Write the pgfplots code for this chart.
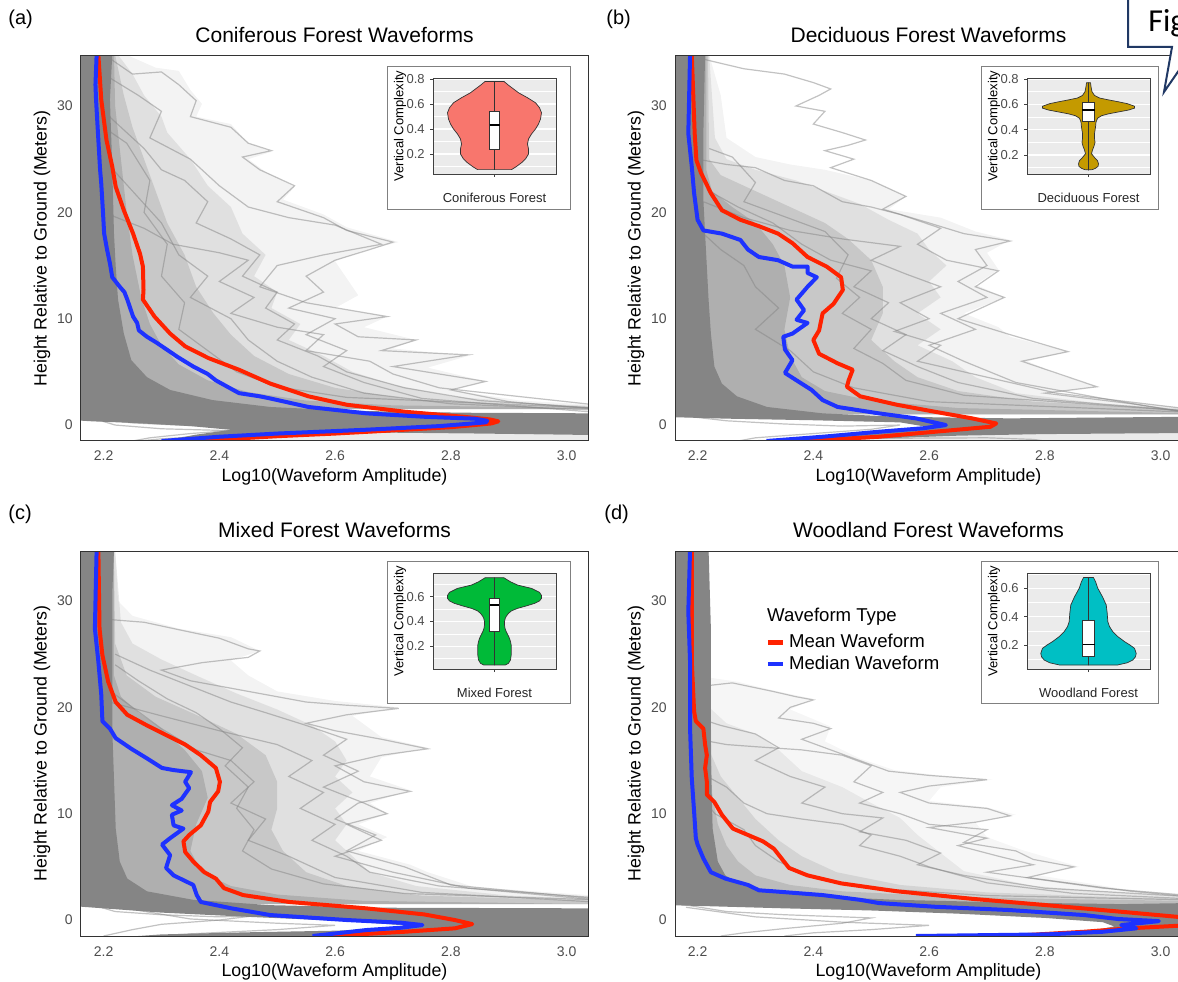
\documentclass[border=0pt]{standalone}
\usepackage{fontspec}
\setmainfont{Liberation Sans}
\newfontfamily\calib{Carlito}
\usepackage{pgfplots}
\usepackage{pgfplotstable}
\pgfplotsset{compat=1.18}

\definecolor{wred}{HTML}{FF2200}
\definecolor{wblue}{HTML}{1E32FF}
\definecolor{wgray}{HTML}{858585}
\definecolor{fgray}{HTML}{4D4D4D}
\definecolor{vred}{HTML}{F8766D}
\definecolor{vgold}{HTML}{C49A00}
\definecolor{vgreen}{HTML}{00BA38}
\definecolor{vcyan}{HTML}{00BFC4}
\definecolor{panelbg}{HTML}{EBEBEB}
\definecolor{navy}{HTML}{203864}

\pgfplotsset{
  wave/.style={
    scale only axis, width=253.5pt, height=192.5pt,
    xmin=2.161, xmax=3.037, ymin=-1.5, ymax=34.7,
    xtick={2.2,2.4,2.6,2.8,3.0}, xticklabels={2.2,2.4,2.6,2.8,3.0},
    ytick={0,10,20,30}, yticklabels={0,10,20,30},
    major tick length=0pt,
    axis line style={draw=black!80, line width=0.5pt},
    tick label style={font=\fontsize{7}{8}\selectfont, text=fgray},
    xticklabel style={anchor=base, yshift=-10pt},
    yticklabel style={anchor=east, inner sep=0pt, xshift=-4pt},
    every axis x label/.style={at={(axis description cs:0.5,-0.105)}, anchor=base,
      font=\fontsize{8.9}{10}\selectfont},
    every axis y label/.style={at={(axis description cs:-0.077,0.5)}, rotate=90,
      anchor=center, font=\fontsize{8.9}{10}\selectfont},
    every axis title/.style={at={(axis description cs:0.5,1.035)}, anchor=base,
      font=\fontsize{10.5}{12}\selectfont},
    xlabel={Log10(Waveform Amplitude)},
    ylabel={Height Relative to Ground (Meters)},
    axis on top,
  },
  wOuter/.style={fill=wgray, fill opacity=0.10, draw=none, forget plot},
  wMid/.style={fill=wgray, fill opacity=0.17, draw=none, forget plot},
  wInner/.style={fill=wgray, fill opacity=0.26, draw=none, forget plot},
  wNear/.style={fill=wgray, fill opacity=0.38, draw=none, forget plot},
  wCore/.style={fill=wgray, draw=none, forget plot},
  wThin/.style={draw=wgray, draw opacity=0.5, line width=0.6pt, forget plot},
  meanl/.style={draw=wred, line width=2pt, line join=round},
  medl/.style={draw=wblue, line width=2pt, line join=round},
  vcInset/.style={
    scale only axis, width=61.5pt, height=48pt,
    xmin=-61.5, xmax=61.5,
    axis background/.style={fill=panelbg},
    axis line style={draw=black!75, line width=0.4pt},
    xtick={0}, xticklabels={},
    minor ytick={0.1,0.3,0.5,0.7},
    ymajorgrids, yminorgrids,
    major grid style={draw=white, line width=0.55pt},
    minor grid style={draw=white, line width=0.3pt},
    major tick length=1.5pt, minor tick length=0pt, tick align=outside,
    tick style={draw=black!75, line width=0.3pt},
    xtick pos=left, ytick pos=left,
    tick label style={font=\fontsize{6.5}{7}\selectfont, text=fgray},
    yticklabel style={anchor=east, inner sep=0pt, xshift=-2.5pt},
    every axis y label/.style={at={(axis description cs:-0.268,0.5)}, rotate=90,
      anchor=center, font=\fontsize{6.5}{7}\selectfont},
    every axis x label/.style={at={(axis description cs:0.5,-0.25)}, anchor=center,
      font=\fontsize{6.5}{7}\selectfont, text=black!85},
    ylabel={Vertical Complexity},
  },
  vside/.style={draw=black!80, line width=0.35pt, line join=round},
  vbox/.style={fill=white, draw=black!80, line width=0.35pt},
  vmed/.style={draw=black, line width=0.8pt},
  vwhisk/.style={draw=black!80, line width=0.35pt},
}

% violin half-widths (px) against vertical complexity
\pgfplotstableread{
w v
0 0.075
17 0.075
22 0.10
27 0.13
31 0.16
34 0.20
34 0.24
33 0.28
34 0.32
37 0.36
41 0.40
44 0.44
46 0.48
47 0.53
45 0.57
41 0.61
33 0.65
24 0.69
19 0.72
14 0.75
9.5 0.78
0 0.78
}\violinA
\pgfplotstableread{
w v
0 0.082
4 0.085
7 0.095
9.5 0.11
10 0.13
9 0.155
6 0.18
4 0.20
3 0.21
4 0.24
5.5 0.27
6.5 0.30
6 0.33
6 0.37
7 0.42
7.5 0.46
9 0.49
13 0.51
20 0.525
30 0.54
40 0.555
46 0.57
46 0.585
39 0.605
30 0.62
20 0.635
11 0.65
6 0.67
3.5 0.70
2.5 0.74
2 0.771
0 0.771
}\violinB
\pgfplotstableread{
w v
0 0.05
11 0.05
14 0.063
16 0.09
16.7 0.13
16.7 0.16
16.7 0.21
16 0.237
15 0.264
13.5 0.29
11.7 0.318
10.5 0.345
10 0.372
10 0.40
10.7 0.425
12 0.445
14 0.466
17 0.486
23 0.506
32 0.526
40 0.546
45 0.566
47 0.587
47 0.61
45 0.635
37 0.667
23 0.694
16 0.72
9.3 0.753
0 0.753
}\violinC
\pgfplotstableread{
w v
0 0.062
29 0.062
39 0.078
44.3 0.097
47 0.12
47.7 0.144
46 0.179
41.5 0.202
36 0.226
29.5 0.26
24.3 0.296
21 0.331
19.3 0.366
18.7 0.425
17.7 0.483
14 0.54
9.3 0.60
7 0.647
5 0.675
0 0.675
}\violinD

\begin{document}
\begin{tikzpicture}
\useasboundingbox (0pt,0pt) rectangle (589pt,490.5pt);

% ---------------- (a) Coniferous ----------------
\begin{axis}[wave, at={(40.5pt,270pt)}, anchor=south west, title={Coniferous Forest Waveforms}]
\addplot[wOuter] coordinates {(2.15,34.8) (2.24,34.8) (2.29,33.6) (2.33,33.3) (2.35,31.5) (2.37,30.2) (2.36,29) (2.42,28.3) (2.45,26.5) (2.49,25.7) (2.45,25) (2.48,23.8) (2.53,22.4) (2.51,21.2) (2.58,19.8) (2.62,18.6) (2.71,17.2) (2.65,16.4) (2.6,15.4) (2.62,13.8) (2.64,12.2) (2.6,11) (2.69,10.2) (2.65,9.2) (2.74,8.0) (2.7,7.2) (2.83,6.5) (2.76,5.4) (2.86,4.1) (2.8,3.3) (2.92,2.3) (3.05,1.9) (3.05,1.5) (2.15,1.5)} -- cycle;
\addplot[wMid] coordinates {(2.15,34.8) (2.225,34.8) (2.25,33) (2.27,31) (2.3,29) (2.31,27.5) (2.35,25) (2.38,22.5) (2.42,20.5) (2.44,18) (2.48,16) (2.46,14) (2.5,12.5) (2.49,11) (2.54,9.5) (2.52,8) (2.58,6.5) (2.63,5) (2.7,3.8) (2.8,2.7) (2.95,2.0) (3.05,1.8) (3.05,1.5) (2.15,1.5)} -- cycle;
\addplot[wInner] coordinates {(2.15,34.8) (2.22,34.8) (2.235,31) (2.25,28) (2.27,25) (2.29,22) (2.31,19) (2.34,16) (2.36,13) (2.39,10.5) (2.42,8.5) (2.46,6.5) (2.52,4.8) (2.6,3.5) (2.72,2.5) (2.9,1.9) (3.05,1.7) (3.05,1.5) (2.15,1.5)} -- cycle;
\addplot[wNear] coordinates {(2.15,34.8) (2.218,34.8) (2.22,30) (2.23,25) (2.24,20) (2.25,16) (2.265,12) (2.28,9.5) (2.3,7.5) (2.33,5.7) (2.38,4.2) (2.45,3.1) (2.55,2.3) (2.7,1.85) (3.05,1.6) (3.05,1.5) (2.15,1.5)} -- cycle;
\addplot[wThin] coordinates {(2.21,34.5) (2.25,33) (2.3,33.2) (2.33,32) (2.36,30.5) (2.35,29) (2.42,28) (2.45,26.5) (2.49,25.8) (2.44,25.2) (2.47,24) (2.53,22.5) (2.5,21) (2.58,19.5) (2.62,18.3) (2.7,17.2) (2.66,16.5) (2.6,15.5) (2.55,14) (2.58,12.5) (2.52,11) (2.6,10) (2.55,8.5) (2.62,7) (2.58,5.5) (2.65,4) (2.75,2.5) (3.05,1.2)};
\addplot[wThin] coordinates {(2.2,33) (2.26,31) (2.3,29.5) (2.28,27) (2.35,25) (2.4,22.5) (2.45,20.5) (2.52,19.5) (2.6,18.8) (2.68,17) (2.58,16) (2.5,15) (2.47,13) (2.55,11.5) (2.69,10.2) (2.6,9.5) (2.64,8.3) (2.74,8) (2.68,7) (2.83,6.6) (2.7,5.5) (2.86,4.1) (2.8,3.3) (2.9,2.2) (3.05,1.5)};
\addplot[wThin] coordinates {(2.19,30) (2.23,28) (2.27,26) (2.3,24) (2.34,23) (2.38,21) (2.36,19) (2.42,17.5) (2.47,16) (2.44,14) (2.5,12.5) (2.48,11) (2.53,9.5) (2.5,8) (2.57,6.5) (2.62,5) (2.72,3.5) (2.85,2.3) (3.05,1.6)};
\addplot[wThin] coordinates {(2.2,25) (2.25,22) (2.3,19) (2.33,16) (2.38,14) (2.35,12) (2.42,10) (2.45,8) (2.5,6) (2.56,4.5) (2.65,3) (2.8,2) (3.05,1.4)};
\addplot[wThin] coordinates {(2.2,20) (2.27,18.5) (2.32,17) (2.4,16.2) (2.45,15.5) (2.4,13.5) (2.46,12) (2.42,10.5) (2.5,9.2) (2.58,8.5) (2.55,7) (2.66,6) (2.7,4.8) (2.78,3.5) (3.05,1.9)};
\addplot[wThin] coordinates {(2.2,28) (2.24,26.5) (2.28,23) (2.27,20) (2.31,17) (2.3,14) (2.34,11.5) (2.33,9) (2.38,7) (2.43,5) (2.5,3.6) (2.62,2.6) (3.05,1.6)};
\addplot[wThin] coordinates {(2.17,0.7) (2.25,0.2) (2.35,-0.05) (2.45,0.05) (2.52,0.2) (2.45,-0.4) (2.35,-0.8) (2.28,-1.2) (2.25,-1.5)};
\addplot[wThin] coordinates {(2.165,0.9) (2.22,0.0) (2.3,-0.35) (2.4,-0.5) (2.5,-0.55) (2.42,-0.9) (2.3,-1.3) (2.26,-1.5)};
\addplot[wMid] coordinates {(2.37,-1.5) (2.45,-1.15) (2.56,-0.85) (2.7,-0.72) (2.85,-0.8) (3.05,-0.94) (3.05,-1.5)} -- cycle;
\addplot[wCore] coordinates {(2.15,34.8) (2.215,34.8) (2.211,30.6) (2.215,24.3) (2.218,18) (2.221,14.9) (2.225,11.8) (2.235,8.6) (2.248,6.1) (2.275,4.5) (2.315,3.3) (2.388,2.35) (2.488,1.7) (2.62,1.35) (2.82,1.16) (3.05,1.1) (3.05,-0.94) (2.85,-0.8) (2.7,-0.72) (2.56,-0.85) (2.45,-1.15) (2.37,-1.5) (2.30,-1.5) (2.36,-0.9) (2.42,-0.45) (2.35,-0.1) (2.25,0.2) (2.18,0.35) (2.15,0.45)} -- cycle;
\addplot[meanl] coordinates {(2.191,34.8) (2.196,30.6) (2.205,26.8) (2.215,24.3) (2.221,22.4) (2.235,20.2) (2.251,18.0) (2.263,16.1) (2.268,14.9) (2.269,12.7) (2.268,11.8) (2.288,10.2) (2.315,8.6) (2.341,7.4) (2.381,6.3) (2.434,5.2) (2.488,3.9) (2.554,2.7) (2.621,1.9) (2.721,1.25) (2.821,0.78) (2.867,0.53) (2.882,0.35) (2.87,0.15) (2.8,-0.2) (2.7,-0.5) (2.6,-0.8) (2.5,-1.05) (2.42,-1.3) (2.37,-1.5)};
\addplot[medl] coordinates {(2.188,34.8) (2.186,32) (2.187,30.6) (2.191,26.8) (2.194,24) (2.196,22.7) (2.199,20) (2.201,18.0) (2.206,16.5) (2.211,15.2) (2.215,13.9) (2.228,13.0) (2.236,12.5) (2.241,11.8) (2.251,10.2) (2.258,9.6) (2.261,8.9) (2.275,8.3) (2.29,7.8) (2.301,7.4) (2.328,6.4) (2.355,5.5) (2.38,4.8) (2.394,4.2) (2.434,3.0) (2.47,2.7) (2.488,2.5) (2.554,1.7) (2.654,1.1) (2.754,0.78) (2.841,0.6) (2.863,0.4) (2.86,0.25) (2.78,-0.1) (2.65,-0.45) (2.5,-0.8) (2.4,-1.1) (2.3,-1.5)};
\end{axis}

% ---------------- (b) Deciduous ----------------
\begin{axis}[wave, at={(337.5pt,270pt)}, anchor=south west, title={Deciduous Forest Waveforms}]
\addplot[wOuter] coordinates {(2.15,34.8) (2.22,34.8) (2.24,31) (2.25,27) (2.3,25.2) (2.36,24.5) (2.42,24) (2.5,23) (2.56,21.5) (2.53,20.3) (2.62,19.5) (2.68,18.2) (2.74,17.4) (2.7,16.2) (2.72,14.6) (2.68,13.2) (2.73,12) (2.66,10.5) (2.72,9.2) (2.74,8.3) (2.84,6.9) (2.77,6) (2.82,4.8) (2.89,3.6) (2.8,3.0) (2.95,2.1) (3.05,1.6) (3.05,1.0) (2.15,1.0)} -- cycle;
\addplot[wMid] coordinates {(2.15,34.8) (2.22,34.8) (2.23,27) (2.25,25) (2.3,24) (2.37,23) (2.42,22) (2.48,20.8) (2.53,19.3) (2.58,18) (2.6,16.5) (2.63,15) (2.6,13.5) (2.62,12) (2.58,10.5) (2.62,9) (2.58,7.5) (2.64,6) (2.68,4.5) (2.75,3) (2.9,2) (3.05,1.5) (3.05,1.0) (2.15,1.0)} -- cycle;
\addplot[wInner] coordinates {(2.15,34.8) (2.218,34.8) (2.22,25) (2.24,23.5) (2.3,22) (2.36,20.5) (2.42,19) (2.46,17.5) (2.5,15.5) (2.52,13) (2.52,10.5) (2.5,8) (2.54,6) (2.58,4.5) (2.65,3.2) (2.78,2.2) (3.05,1.4) (3.05,1.0) (2.15,1.0)} -- cycle;
\addplot[wNear] coordinates {(2.15,34.8) (2.215,34.8) (2.215,24) (2.225,22) (2.26,20.5) (2.3,19) (2.33,17) (2.35,15) (2.36,12) (2.35,9) (2.36,6.5) (2.38,4.5) (2.42,3.2) (2.5,2.3) (2.65,1.6) (3.05,1.1) (3.05,1.0) (2.15,1.0)} -- cycle;
\addplot[wThin] coordinates {(2.21,34.4) (2.28,33.5) (2.35,33) (2.4,32.2) (2.43,31.6) (2.41,31) (2.37,30) (2.42,29.5) (2.4,28.3) (2.45,27.5) (2.49,26.8) (2.46,26.3) (2.42,25.8) (2.47,25) (2.43,24.2) (2.5,23) (2.56,21.5) (2.52,20.3) (2.6,19) (2.66,18) (2.74,17.3) (2.68,16.5) (2.7,15) (2.65,13.5) (2.7,12) (2.62,10.5) (2.68,9) (2.6,7.5) (2.66,6) (2.75,4) (2.9,2.5) (3.05,1.1)};
\addplot[wThin] coordinates {(2.2,25) (2.25,24.5) (2.3,24.2) (2.35,23) (2.4,22.5) (2.45,21) (2.5,20.5) (2.55,19.8) (2.62,18.5) (2.58,17) (2.63,15.5) (2.72,14.5) (2.68,13) (2.73,12) (2.65,10) (2.74,8.5) (2.84,6.9) (2.76,6) (2.89,3.6) (2.8,3.0) (2.95,2) (3.05,1.2)};
\addplot[wThin] coordinates {(2.22,22) (2.27,20.5) (2.33,19) (2.38,17) (2.43,15.5) (2.5,14.5) (2.47,13) (2.53,11.5) (2.5,10) (2.56,8.5) (2.52,7) (2.58,5.5) (2.65,4) (2.78,2.5) (3.05,1.3)};
\addplot[wThin] coordinates {(2.2,18.5) (2.24,16.5) (2.28,15) (2.3,13) (2.34,11) (2.3,9) (2.36,7) (2.4,5) (2.47,3.5) (2.6,2.2) (3.05,1.2)};
\addplot[wThin] coordinates {(2.21,21) (2.28,19.5) (2.36,18.3) (2.45,17.5) (2.55,16.8) (2.5,15.5) (2.56,14.2) (2.62,13) (2.55,11.5) (2.6,10) (2.54,8.8) (2.62,7.5) (2.58,6) (2.7,4.5) (2.82,3) (3.05,1.5)};
\addplot[wThin] coordinates {(2.22,26) (2.26,25.2) (2.3,22.8) (2.28,21) (2.34,19.8) (2.42,18.2) (2.46,16) (2.44,13.8) (2.48,12) (2.45,10.5) (2.5,9) (2.47,7.2) (2.52,5.8) (2.56,4.2) (2.66,2.8) (3.05,1.3)};
\addplot[wThin] coordinates {(2.17,0.9) (2.25,0.4) (2.35,0.1) (2.45,-0.1) (2.55,0.0) (2.5,-0.4) (2.4,-0.8) (2.3,-1.2) (2.27,-1.5)};
\addplot[wThin] coordinates {(2.27,-1.5) (2.5,-1.25) (2.7,-1.2) (2.78,-1.35) (2.8,-1.5)};
\addplot[wMid] coordinates {(2.4,-1.5) (2.45,-1.4) (2.55,-1.2) (2.65,-1.0) (2.8,-0.85) (3.05,-0.75) (3.05,-1.5)} -- cycle;
\addplot[wCore] coordinates {(2.15,34.8) (2.213,34.8) (2.21,27.4) (2.21,21.2) (2.213,18) (2.216,14.9) (2.219,11.8) (2.223,8.6) (2.229,5.5) (2.242,3.9) (2.268,2.7) (2.32,1.7) (2.416,1.1) (2.545,0.78) (2.739,0.63) (3.05,0.78) (3.05,-0.75) (2.8,-0.85) (2.65,-1.0) (2.55,-1.2) (2.45,-1.4) (2.4,-1.5) (2.3,-1.5) (2.42,-1.0) (2.55,-0.6) (2.6,-0.2) (2.55,0.25) (2.4,0.45) (2.25,0.6) (2.15,0.75)} -- cycle;
\addplot[meanl] coordinates {(2.19,34.8) (2.195,27.4) (2.198,24.9) (2.206,23.7) (2.223,21.8) (2.242,20.2) (2.274,19.3) (2.306,18.7) (2.339,18.0) (2.364,17.1) (2.39,15.8) (2.423,14.9) (2.448,13.9) (2.451,12.7) (2.435,11.4) (2.416,10.5) (2.41,8.9) (2.4,8.0) (2.41,6.7) (2.442,5.8) (2.468,5.2) (2.461,4.2) (2.458,3.6) (2.481,2.7) (2.545,1.9) (2.61,1.25) (2.674,0.63) (2.716,0.15) (2.706,-0.16) (2.61,-0.63) (2.513,-1.1) (2.416,-1.4) (2.39,-1.5)};
\addplot[medl] coordinates {(2.187,34.8) (2.184,27.4) (2.19,24.3) (2.194,21.8) (2.2,19.3) (2.21,18.3) (2.242,18.0) (2.274,17.4) (2.287,16.5) (2.306,15.8) (2.339,15.5) (2.364,14.9) (2.39,14.9) (2.39,14.3) (2.406,13.9) (2.39,13.0) (2.371,11.8) (2.384,10.8) (2.371,9.9) (2.39,9.6) (2.364,8.6) (2.348,8.3) (2.351,7.1) (2.364,6.1) (2.351,4.9) (2.371,4.2) (2.397,3.3) (2.416,2.35) (2.442,1.7) (2.513,1.1) (2.577,0.63) (2.629,0.0) (2.59,-0.3) (2.513,-0.63) (2.416,-1.1) (2.319,-1.5)};
\end{axis}

% ---------------- (c) Mixed ----------------
\begin{axis}[wave, at={(40.5pt,22.5pt)}, anchor=south west, title={Mixed Forest Waveforms}]
\addplot[wOuter] coordinates {(2.15,34.8) (2.22,34.8) (2.225,30) (2.25,28.6) (2.33,27.4) (2.42,26.6) (2.47,25.3) (2.42,24.4) (2.45,23) (2.5,21.5) (2.6,20.6) (2.71,20) (2.63,19.2) (2.68,17.2) (2.76,16.2) (2.68,15.3) (2.66,13.5) (2.73,12.2) (2.66,11) (2.69,10) (2.64,9) (2.69,7.8) (2.64,6.5) (2.73,5.2) (2.76,4.5) (2.84,3.1) (3.05,2.3) (3.05,1.5) (2.15,1.5)} -- cycle;
\addplot[wMid] coordinates {(2.15,34.8) (2.22,34.8) (2.23,28) (2.25,26) (2.3,24.5) (2.36,23) (2.43,21.3) (2.5,19.8) (2.56,18.3) (2.6,16.8) (2.62,15) (2.6,13.5) (2.63,12) (2.6,10.5) (2.62,9) (2.6,7.5) (2.63,6) (2.66,4.5) (2.74,3.2) (2.9,2.3) (3.05,2.0) (3.05,1.5) (2.15,1.5)} -- cycle;
\addplot[wInner] coordinates {(2.15,34.8) (2.218,34.8) (2.22,26) (2.24,23) (2.29,21) (2.36,19.3) (2.43,17.5) (2.48,15.5) (2.5,13) (2.5,10.5) (2.49,8.5) (2.51,6.5) (2.55,4.5) (2.62,3.2) (2.75,2.3) (3.05,1.8) (3.05,1.5) (2.15,1.5)} -- cycle;
\addplot[wNear] coordinates {(2.15,34.8) (2.218,34.8) (2.218,23) (2.23,21) (2.26,19.5) (2.3,18) (2.34,16) (2.37,14) (2.38,11.5) (2.36,9) (2.35,6.5) (2.37,4.5) (2.42,3.2) (2.5,2.4) (2.65,1.8) (3.05,1.5) (2.15,1.5)} -- cycle;
\addplot[wThin] coordinates {(2.2,28.3) (2.27,28) (2.33,27.3) (2.4,26.5) (2.45,25.5) (2.47,25.3) (2.45,24.7) (2.37,24.2) (2.3,23.5) (2.35,22.5) (2.42,21.8) (2.5,21) (2.55,20.5) (2.62,20.2) (2.71,19.9) (2.62,19.3) (2.55,18.5) (2.6,17.8) (2.68,17) (2.76,16.1) (2.68,15.5) (2.6,14.5) (2.65,13) (2.73,12.1) (2.64,11) (2.6,9.5) (2.67,8) (2.62,6.5) (2.72,5) (2.8,3.3) (3.05,2.0)};
\addplot[wThin] coordinates {(2.22,25) (2.28,23.5) (2.35,22) (2.42,20.5) (2.48,19.5) (2.55,18.3) (2.62,17) (2.58,15.5) (2.64,14) (2.58,12.5) (2.65,11) (2.69,10) (2.62,9) (2.68,7.5) (2.6,6) (2.7,4.5) (2.83,3) (3.05,1.9)};
\addplot[wThin] coordinates {(2.2,22) (2.25,20) (2.3,18) (2.36,16) (2.42,15) (2.46,13) (2.42,11) (2.48,9.5) (2.45,7.5) (2.52,6) (2.6,4) (2.75,2.6) (3.05,1.7)};
\addplot[wThin] coordinates {(2.21,20.5) (2.3,19.2) (2.4,17.8) (2.5,16.5) (2.56,15) (2.52,13.5) (2.58,12) (2.54,10.5) (2.6,9) (2.56,7.5) (2.62,6) (2.66,4.5) (2.78,3.2) (3.05,2.1)};
\addplot[wThin] coordinates {(2.22,24) (2.26,22.5) (2.31,20.8) (2.36,19.5) (2.4,18) (2.44,16.2) (2.41,14.5) (2.45,12.5) (2.43,10.5) (2.46,8.5) (2.44,6.5) (2.49,4.8) (2.58,3.4) (2.72,2.5) (3.05,1.9)};
\addplot[wThin] coordinates {(2.17,1.6) (2.22,0.8) (2.3,0.5) (2.4,0.3) (2.46,0.4) (2.4,0.0) (2.3,-0.4) (2.25,-0.9) (2.2,-1.5)};
\addplot[wThin] coordinates {(2.2,2.0) (2.25,1.0) (2.35,0.1) (2.5,-0.3) (2.6,-0.5) (2.5,-0.9) (2.35,-1.3) (2.3,-1.5)};
\addplot[wCore] coordinates {(2.15,34.8) (2.218,34.8) (2.215,30.6) (2.215,24.3) (2.215,18) (2.218,13.3) (2.221,8.6) (2.228,5.5) (2.241,3.9) (2.275,2.7) (2.355,1.9) (2.488,1.4) (2.687,1.16) (3.05,1.1) (3.05,-1.5) (2.26,-1.5) (2.3,-1.35) (2.45,-1.15) (2.6,-1.0) (2.7,-0.8) (2.72,-0.5) (2.62,-0.1) (2.45,0.3) (2.3,0.7) (2.2,1.1) (2.15,1.3)} -- cycle;
\addplot[meanl] coordinates {(2.191,34.8) (2.193,27.4) (2.198,24.9) (2.208,22.4) (2.221,20.5) (2.241,19.3) (2.275,18.3) (2.308,17.4) (2.341,16.5) (2.368,15.5) (2.394,14.3) (2.401,13.0) (2.398,12.1) (2.384,11.1) (2.381,10.2) (2.368,8.9) (2.348,8.0) (2.338,7.4) (2.341,6.4) (2.355,5.5) (2.374,4.5) (2.394,3.9) (2.408,3.0) (2.441,2.35) (2.521,1.7) (2.654,1.1) (2.754,0.53) (2.807,0.0) (2.837,-0.38) (2.807,-0.78) (2.72,-1.1) (2.621,-1.4) (2.588,-1.5)};
\addplot[medl] coordinates {(2.188,34.8) (2.185,27.4) (2.191,24.3) (2.196,21.2) (2.198,18.7) (2.211,18.0) (2.221,17.1) (2.248,16.1) (2.275,15.2) (2.301,14.3) (2.321,14.1) (2.351,13.9) (2.341,13.0) (2.348,12.4) (2.335,11.4) (2.318,10.8) (2.335,10.3) (2.318,9.9) (2.321,8.9) (2.338,8.6) (2.315,7.7) (2.301,7.1) (2.315,6.1) (2.308,4.9) (2.321,4.2) (2.355,3.3) (2.361,2.35) (2.368,1.7) (2.421,1.1) (2.488,0.47) (2.621,0.0) (2.714,-0.25) (2.751,-0.47) (2.714,-0.72) (2.654,-0.94) (2.561,-1.5)};
\end{axis}

% ---------------- (d) Woodland ----------------
\begin{axis}[wave, at={(337.5pt,22.5pt)}, anchor=south west, title={Woodland Forest Waveforms},
  legend style={at={(rel axis cs:0.178,0.795)}, anchor=north west, draw=none, fill=none,
    font=\fontsize{9.3}{10}\selectfont, inner sep=0pt, row sep=-1.5pt,
    /tikz/every even column/.append style={column sep=0pt}},
  legend cell align=left,
  legend image code/.code={\draw[#1, line width=2.2pt] (0pt,0pt) -- (7.5pt,0pt);}]
\addplot[wOuter, fill opacity=0.07] coordinates {(2.15,34.8) (2.22,34.8) (2.22,22.8) (2.27,22.4) (2.33,21.6) (2.4,20.8) (2.36,19.8) (2.43,18.2) (2.42,16.8) (2.48,15.2) (2.54,14.1) (2.62,13.6) (2.71,13.2) (2.62,12.5) (2.6,11.2) (2.7,10.6) (2.75,9.9) (2.68,9.2) (2.7,7.8) (2.76,6.6) (2.86,5.0) (2.79,4.2) (2.95,2.8) (3.05,2.4) (3.05,1.5) (2.15,1.5)} -- cycle;
\addplot[wMid, fill opacity=0.13] coordinates {(2.15,34.8) (2.22,34.8) (2.22,20) (2.25,18.5) (2.3,17.5) (2.34,16) (2.38,14) (2.45,12.5) (2.5,11) (2.55,9.6) (2.58,8) (2.62,6.3) (2.66,4.6) (2.78,3.2) (2.95,2.5) (3.05,2.2) (3.05,1.5) (2.15,1.5)} -- cycle;
\addplot[wInner, fill opacity=0.2] coordinates {(2.15,34.8) (2.218,34.8) (2.22,16) (2.24,13.5) (2.27,11.5) (2.3,9.5) (2.34,7.5) (2.38,6) (2.44,4.5) (2.55,3.3) (2.7,2.6) (2.9,2.2) (3.05,2.0) (3.05,1.5) (2.15,1.5)} -- cycle;
\addplot[wNear, fill opacity=0.3] coordinates {(2.15,34.8) (2.218,34.8) (2.225,12) (2.235,9) (2.25,7) (2.27,5.5) (2.3,4.2) (2.36,3.3) (2.45,2.7) (2.6,2.3) (2.8,2.0) (3.05,1.8) (3.05,1.5) (2.15,1.5)} -- cycle;
\addplot[wThin] coordinates {(2.21,22) (2.26,22.3) (2.33,21.5) (2.37,21) (2.4,20.7) (2.36,20) (2.34,19) (2.4,18.5) (2.43,18) (2.38,17) (2.43,16) (2.48,15) (2.53,14) (2.6,13.6) (2.7,13.2) (2.6,12.6) (2.55,12) (2.6,11) (2.7,10.5) (2.74,9.8) (2.68,9.2) (2.6,8.7) (2.7,7.7) (2.65,7) (2.72,6) (2.78,5.2) (2.7,4.5) (2.9,3) (3.05,2.3)};
\addplot[wThin] coordinates {(2.2,17) (2.25,16.5) (2.3,16.3) (2.38,16) (2.45,15.5) (2.5,14.5) (2.47,13) (2.52,12) (2.48,11) (2.55,10) (2.6,9) (2.7,8.5) (2.66,7.3) (2.75,6.5) (2.78,5.7) (2.85,5) (2.77,4) (2.95,2.7) (3.05,2.2)};
\addplot[wThin] coordinates {(2.2,14) (2.25,12.5) (2.28,11) (2.32,10) (2.38,9.5) (2.45,9) (2.5,8) (2.48,7) (2.55,6) (2.6,5) (2.7,3.5) (2.85,2.5) (3.05,2.0)};
\addplot[wThin] coordinates {(2.2,12) (2.23,10) (2.28,8.5) (2.3,7) (2.34,5.5) (2.4,4) (2.5,3) (2.7,2.3) (3.05,1.9)};
\addplot[wThin] coordinates {(2.2,19) (2.24,18.3) (2.3,17.5) (2.34,16.2) (2.3,15) (2.36,13.5) (2.42,12.5) (2.38,11) (2.45,10) (2.52,9.6) (2.48,8.3) (2.56,7.5) (2.62,6.3) (2.58,5.2) (2.66,4.2) (2.8,3) (3.05,2.2)};
\addplot[wThin] coordinates {(2.17,1.5) (2.25,0.8) (2.35,0.5) (2.45,0.3) (2.5,0.2) (2.45,-0.3) (2.35,-0.8) (2.28,-1.2) (2.24,-1.5)};
\addplot[wThin] coordinates {(2.18,1.2) (2.3,0.3) (2.45,-0.2) (2.6,-0.5) (2.5,-0.9) (2.4,-1.2) (2.35,-1.5)};
\addplot[wCore] coordinates {(2.15,34.8) (2.219,34.8) (2.223,27.4) (2.223,21.2) (2.223,14.9) (2.226,8.6) (2.235,5.5) (2.248,4.2) (2.274,3.3) (2.319,2.7) (2.416,2.2) (2.545,1.9) (2.739,1.65) (2.932,1.5) (3.05,1.6) (3.05,-1.5) (2.58,-1.5) (2.75,-1.3) (2.88,-1.0) (2.92,-0.6) (2.9,-0.2) (2.8,0.2) (2.65,0.6) (2.5,0.9) (2.35,1.1) (2.22,1.3) (2.15,1.4)} -- cycle;
\addplot[meanl] coordinates {(2.19,34.8) (2.19,24.3) (2.194,19.6) (2.197,18.7) (2.21,18.0) (2.213,16.5) (2.216,15.5) (2.213,14.3) (2.216,13.0) (2.216,11.8) (2.229,11.1) (2.242,9.9) (2.261,8.6) (2.287,8.0) (2.313,7.4) (2.332,6.7) (2.345,5.8) (2.358,4.9) (2.39,4.2) (2.448,3.45) (2.545,2.7) (2.674,2.0) (2.803,1.4) (2.932,0.78) (3.06,0.15) (3.06,-0.45) (2.945,-0.78) (2.868,-1.1) (2.74,-1.5)};
\addlegendentry{Mean Waveform}
\addplot[medl] coordinates {(2.187,34.8) (2.184,29.0) (2.187,24.3) (2.187,18.0) (2.19,13.3) (2.194,10.2) (2.197,7.7) (2.2,7.1) (2.21,5.8) (2.223,4.5) (2.248,3.9) (2.287,3.3) (2.306,2.8) (2.332,2.7) (2.416,2.35) (2.481,1.9) (2.513,1.6) (2.61,1.25) (2.739,0.94) (2.868,0.47) (2.926,0.1) (2.997,-0.1) (2.932,-0.47) (2.958,-0.78) (2.9,-1.1) (2.803,-1.35) (2.577,-1.5)};
\addlegendentry{Median Waveform}
\node[anchor=west, inner sep=0pt, font=\fontsize{9.3}{10}\selectfont] at (rel axis cs:0.181,0.829) {Waveform Type};
\end{axis}

% ---------------- insets ----------------
\draw[draw=black!50, fill=white, line width=0.5pt] (193.5pt,457pt) rectangle (285pt,385.5pt);
\begin{axis}[vcInset, at={(216.5pt,403.5pt)}, anchor=south west, ymin=0.04, ymax=0.808,
  ytick={0.2,0.4,0.6,0.8}, yticklabels={0.2,0.4,0.6,0.8}, xlabel={Coniferous Forest}]
\addplot[vside, fill=vred] table[x=w, y=v] {\violinA} -- cycle;
\addplot[vside, fill=vred] table[x expr=-\thisrow{w}, y=v] {\violinA} -- cycle;
\addplot[vwhisk] coordinates {(0,0.075) (0,0.78)};
\addplot[vbox] coordinates {(-5,0.24) (5,0.24) (5,0.545) (-5,0.545)} -- cycle;
\addplot[vmed] coordinates {(-5,0.43) (5,0.43)};
\end{axis}

\draw[draw=black!50, fill=white, line width=0.5pt] (490.5pt,457pt) rectangle (579pt,385.5pt);
\begin{axis}[vcInset, at={(513.5pt,403.5pt)}, anchor=south west, ymin=0.05, ymax=0.808,
  ytick={0.2,0.4,0.6,0.8}, yticklabels={0.2,0.4,0.6,0.8}, xlabel={Deciduous Forest}]
\addplot[vside, fill=vgold] table[x=w, y=v] {\violinB} -- cycle;
\addplot[vside, fill=vgold] table[x expr=-\thisrow{w}, y=v] {\violinB} -- cycle;
\addplot[vwhisk] coordinates {(0,0.29) (0,0.771)};
\addplot[vbox] coordinates {(-6.3,0.463) (6.3,0.463) (6.3,0.616) (-6.3,0.616)} -- cycle;
\addplot[vmed] coordinates {(-6.3,0.555) (6.3,0.555)};
\end{axis}

\draw[draw=black!50, fill=white, line width=0.5pt] (193.5pt,209.5pt) rectangle (285pt,139pt);
\begin{axis}[vcInset, at={(216.5pt,156pt)}, anchor=south west, ymin=0.017, ymax=0.791,
  ytick={0.2,0.4,0.6}, yticklabels={0.2,0.4,0.6}, xlabel={Mixed Forest}]
\addplot[vside, fill=vgreen] table[x=w, y=v] {\violinC} -- cycle;
\addplot[vside, fill=vgreen] table[x expr=-\thisrow{w}, y=v] {\violinC} -- cycle;
\addplot[vwhisk] coordinates {(0,0.05) (0,0.753)};
\addplot[vbox] coordinates {(-4.7,0.318) (4.7,0.318) (4.7,0.587) (-4.7,0.587)} -- cycle;
\addplot[vmed] coordinates {(-4.7,0.533) (4.7,0.533)};
\end{axis}

\draw[draw=black!50, fill=white, line width=0.5pt] (490.5pt,209.5pt) rectangle (579pt,139pt);
\begin{axis}[vcInset, at={(513.5pt,156pt)}, anchor=south west, ymin=0.034, ymax=0.707,
  ytick={0.2,0.4,0.6}, yticklabels={0.2,0.4,0.6}, xlabel={Woodland Forest}]
\addplot[vside, fill=vcyan] table[x=w, y=v] {\violinD} -- cycle;
\addplot[vside, fill=vcyan] table[x expr=-\thisrow{w}, y=v] {\violinD} -- cycle;
\addplot[vwhisk] coordinates {(0,0.062) (0,0.675)};
\addplot[vbox] coordinates {(-6,0.125) (6,0.125) (6,0.373) (-6,0.373)} -- cycle;
\addplot[vmed] coordinates {(-6,0.207) (6,0.207)};
\end{axis}

% ---------------- panel letters ----------------
\node[anchor=west, inner sep=0pt, font=\fontsize{10}{12}\selectfont] at (4pt,481pt) {(a)};
\node[anchor=west, inner sep=0pt, font=\fontsize{10}{12}\selectfont] at (303pt,481pt) {(b)};
\node[anchor=west, inner sep=0pt, font=\fontsize{10}{12}\selectfont] at (4pt,233.5pt) {(c)};
\node[anchor=west, inner sep=0pt, font=\fontsize{10}{12}\selectfont] at (302pt,233.5pt) {(d)};

% ---------------- callout (cut off at the right edge) ----------------
\draw[navy, line width=1pt, fill=white, line join=miter]
  (564pt,495.5pt) -- (564pt,467pt) -- (586pt,467pt) -- (582pt,444.5pt) -- (597.5pt,467pt)
  -- (610pt,467pt) -- (610pt,495.5pt) -- cycle;
\node[anchor=base west, inner sep=0pt, font=\calib\fontsize{16}{18}\selectfont] at (574pt,474.5pt) {Fig};
\end{tikzpicture}
\end{document}
